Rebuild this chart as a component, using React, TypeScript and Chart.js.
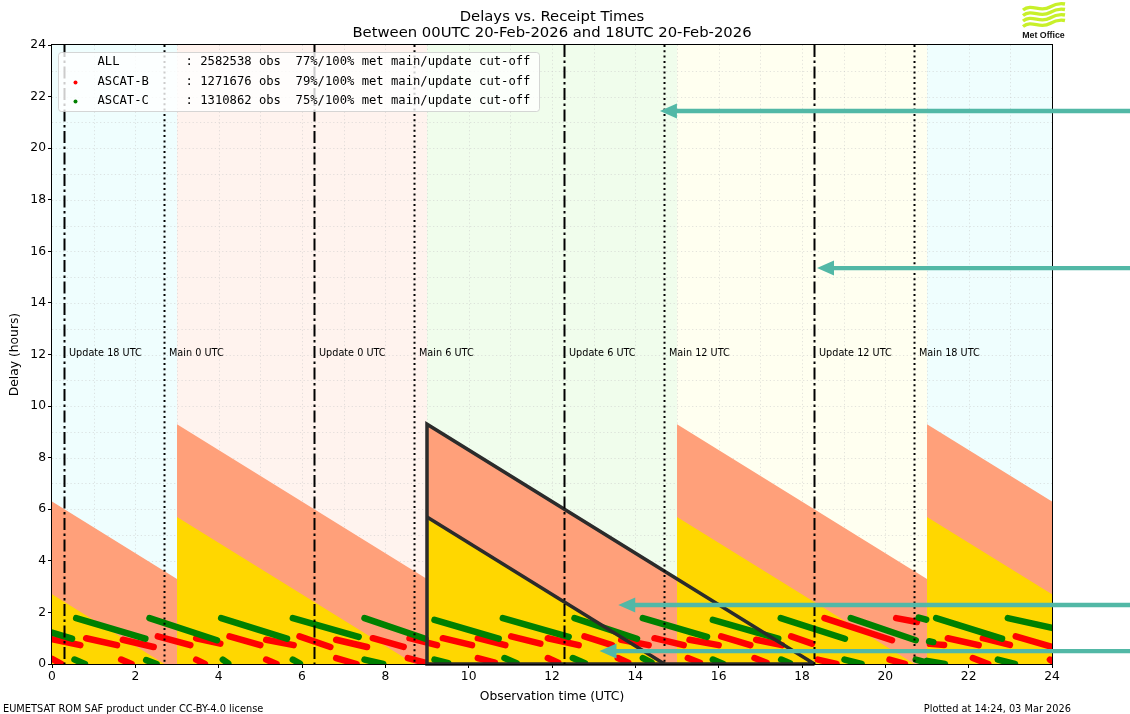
import React, { useEffect, useRef } from "react";
import { Chart, registerables } from "chart.js";

Chart.register(...registerables);

// ---------------- data ----------------
const xTickValues = [0, 2, 4, 6, 8, 10, 12, 14, 16, 18, 20, 22, 24];
const yTickValues = [0, 2, 4, 6, 8, 10, 12, 14, 16, 18, 20, 22, 24];
const gridValues = [1, 2, 3, 4, 5, 6, 7, 8, 9, 10, 11, 12, 13, 14, 15, 16, 17, 18, 19, 20, 21, 22, 23];

// receipt windows (observation hours)
const windowStarts = [0, 3, 9, 15, 21];
const windowEnds = [3, 9, 15, 21, 24];

// cut-off times (observation hours)
const updateCutoffs = [0.3, 6.3, 12.3, 18.3];
const updateLabels = ["Update 18 UTC", "Update 0 UTC", "Update 6 UTC", "Update 12 UTC"];
const mainCutoffs = [2.7, 8.7, 14.7, 20.7];
const mainLabels = ["Main 0 UTC", "Main 6 UTC", "Main 12 UTC", "Main 18 UTC"];
const cutoffLabelDelay = 12;

// delay limits for update (salmon) and main (gold) cut-offs
const updateLimitX = [0, 3, 3, 9, 9, 15, 15, 21, 21, 24];
const updateLimitY = [6.3, 3.3, 9.3, 3.3, 9.3, 3.3, 9.3, 3.3, 9.3, 6.3];
const mainLimitX = [0, 2.7, 3, 3, 8.7, 9, 9, 14.7, 15, 15, 20.7, 21, 21, 24];
const mainLimitY = [2.7, 0, 0, 5.7, 0, 0, 5.7, 0, 0, 5.7, 0, 0, 5.7, 2.7];

// highlighted triangles
const bigTriangleX = [18.3, 9, 9, 18.3];
const bigTriangleY = [0, 0, 9.3, 0];
const smallTriangleX = [9, 14.7];
const smallTriangleY = [5.7, 0];

// arrows: tip position (hour, delay)
const arrowTipX = [14.59, 18.36, 13.59, 13.14];
const arrowTipY = [21.44, 15.35, 2.29, 0.5];

// streaks of observations [t0, d0, t1, d1]
const ascatBStreaks: number[][] = [
  [0, 0.96, 0.68, 0.73], [0.82, 1.0, 1.56, 0.73], [1.7, 0.94, 2.44, 0.66], [2.54, 1.07, 3.32, 0.73],
  [3.46, 1.0, 4.04, 0.79], [4.26, 1.07, 5.0, 0.73], [5.14, 0.94, 5.8, 0.73], [5.94, 1.07, 6.68, 0.66],
  [6.82, 0.94, 7.56, 0.66], [7.7, 1.0, 8.44, 0.66], [8.58, 1.0, 9.24, 0.73], [9.38, 1.0, 10.08, 0.73],
  [10.22, 1.0, 10.88, 0.73], [11.02, 1.07, 11.72, 0.79], [11.9, 1.0, 12.64, 0.73], [12.78, 1.07, 13.44, 0.73],
  [13.66, 0.94, 14.32, 0.73], [14.46, 1.0, 15.16, 0.73], [15.3, 0.94, 16.0, 0.73], [16.06, 1.07, 16.76, 0.73],
  [16.9, 0.94, 17.52, 0.73], [17.74, 1.07, 18.24, 0.79], [18.54, 1.78, 20.16, 0.92], [20.26, 1.78, 20.76, 1.63],
  [21.07, 0.78, 21.41, 0.74], [21.5, 1.0, 22.24, 0.73], [22.34, 1.0, 22.99, 0.74], [23.13, 1.07, 24.0, 0.66],
  [0, 0.2, 0.23, 0.0], [1.66, 0.17, 1.91, 0.0], [3.46, 0.17, 3.67, 0.0], [5.14, 0.17, 5.39, 0.0],
  [6.82, 0.23, 7.31, 0.0], [8.54, 0.23, 8.95, 0.05], [10.22, 0.23, 10.63, 0.05], [11.9, 0.23, 12.15, 0.05],
  [13.58, 0.23, 13.83, 0.05], [15.26, 0.23, 15.55, 0.05], [16.86, 0.23, 17.15, 0.05], [18.38, 0.17, 18.83, 0.0],
  [20.1, 0.17, 20.47, 0.0], [22.1, 0.23, 22.47, 0.0], [23.95, 0.17, 24, 0.12],
];
const ascatCStreaks: number[][] = [
  [0, 1.22, 0.48, 0.98], [0.58, 1.78, 2.24, 0.98], [2.34, 1.78, 3.96, 0.92], [4.06, 1.78, 5.64, 0.98],
  [5.78, 1.78, 7.36, 1.05], [7.5, 1.78, 8.96, 0.98], [9.18, 1.71, 10.72, 0.98], [10.82, 1.78, 12.4, 1.05],
  [12.54, 1.78, 14.04, 0.98], [14.18, 1.78, 15.72, 1.05], [15.86, 1.71, 17.43, 0.98], [17.49, 1.78, 19.03, 0.98],
  [19.17, 1.78, 20.73, 0.92], [20.8, 1.8, 20.98, 1.72], [21.05, 0.88, 21.15, 0.85], [21.22, 1.78, 22.8, 0.98],
  [22.94, 1.78, 24, 1.4],
  [0.54, 0.17, 0.79, 0.0], [2.26, 0.15, 2.51, 0.0], [4.1, 0.17, 4.23, 0.02], [5.78, 0.17, 5.95, 0.02],
  [7.5, 0.17, 7.95, 0.0], [9.18, 0.17, 9.51, 0.03], [10.86, 0.23, 11.15, 0.03], [12.5, 0.23, 12.79, 0.03],
  [14.18, 0.23, 14.39, 0.05], [15.86, 0.17, 16.11, 0.0], [17.5, 0.17, 17.71, 0.03], [19.02, 0.17, 19.43, 0.0],
  [20.73, 0.17, 21.0, 0.05], [21.0, 0.12, 21.43, 0.0], [22.7, 0.17, 23.11, 0.0],
];

// legend
const legendNames = ["ALL", "ASCAT-B", "ASCAT-C"];
const legendObs = [2582538, 1271676, 1310862];
const legendMainPct = [77, 79, 75];
const legendUpdatePct = [100, 100, 100];

const titleLines = ["Delays vs. Receipt Times", "Between 00UTC 20-Feb-2026 and 18UTC 20-Feb-2026"];
const xTitle = "Observation time (UTC)";
const yTitle = "Delay (hours)";
const footerLeft = "EUMETSAT ROM SAF product under CC-BY-4.0 license";
const footerRight = "Plotted at 14:24, 03 Mar 2026";
const logoText = "Met Office";

// ---------------- styles ----------------
const W = 1130;
const H = 714;
const AREA = { left: 52, top: 45, right: 1052, bottom: 664 };
const FONT = "'DejaVu Sans', sans-serif";
const MONO = "'DejaVu Sans Mono', monospace";
const windowColors = ["#effefe", "#fff3ee", "#f0fdec", "#fffff0", "#effefe"];
const SALMON = "#ffa07a";
const GOLD = "#ffd700";
const RED = "#ff0000";
const GREEN = "#008000";
const OUTLINE = "#2b2b2b";
const ARROW = "#52b8a6";
const GRID = "rgba(200,200,200,0.5)";
const LOGO_GREEN = "#c8f02a";

const pts = (xs: number[], ys: number[]) => xs.map((x, i) => ({ x, y: ys[i] }));

const decorPlugin = {
  id: "decor",
  beforeDatasetsDraw(chart: any) {
    const { ctx, chartArea: a, scales } = chart;
    const xs = scales.x;
    const ys = scales.y;
    ctx.save();
    windowStarts.forEach((s, i) => {
      const x0 = xs.getPixelForValue(s);
      const x1 = xs.getPixelForValue(windowEnds[i]);
      ctx.fillStyle = windowColors[i];
      ctx.fillRect(x0, a.top, x1 - x0, a.bottom - a.top);
    });
    ctx.strokeStyle = GRID;
    ctx.lineWidth = 1;
    ctx.setLineDash([1.2, 2.5]);
    gridValues.forEach((v) => {
      const px = Math.round(xs.getPixelForValue(v)) + 0.5;
      ctx.beginPath();
      ctx.moveTo(px, a.top);
      ctx.lineTo(px, a.bottom);
      ctx.stroke();
      const py = Math.round(ys.getPixelForValue(v)) + 0.5;
      ctx.beginPath();
      ctx.moveTo(a.left, py);
      ctx.lineTo(a.right, py);
      ctx.stroke();
    });
    ctx.restore();
  },
  afterDatasetsDraw(chart: any) {
    const { ctx, chartArea: a, scales } = chart;
    const xs = scales.x;
    const ys = scales.y;
    ctx.save();
    ctx.beginPath();
    ctx.rect(a.left, a.top, a.right - a.left, a.bottom - a.top);
    ctx.clip();
    ctx.strokeStyle = "#000";
    ctx.lineWidth = 2;
    const drawV = (v: number, dash: number[]) => {
      const px = xs.getPixelForValue(v);
      ctx.setLineDash(dash);
      ctx.beginPath();
      ctx.moveTo(px, a.top);
      ctx.lineTo(px, a.bottom);
      ctx.stroke();
    };
    updateCutoffs.forEach((v) => drawV(v, [12, 3.5, 2.5, 3.5]));
    mainCutoffs.forEach((v) => drawV(v, [2, 3.3]));
    ctx.setLineDash([]);
    ctx.fillStyle = "#000";
    ctx.font = `9.7px ${FONT}`;
    ctx.textBaseline = "middle";
    ctx.textAlign = "left";
    const ly = ys.getPixelForValue(cutoffLabelDelay) - 1;
    updateCutoffs.forEach((v, i) => ctx.fillText(updateLabels[i], xs.getPixelForValue(v) + 4.5, ly));
    mainCutoffs.forEach((v, i) => ctx.fillText(mainLabels[i], xs.getPixelForValue(v) + 4.5, ly));
    ctx.restore();

    // spines
    ctx.save();
    ctx.strokeStyle = "#000";
    ctx.lineWidth = 1;
    ctx.strokeRect(a.left - 0.5, a.top - 0.5, a.right - a.left + 1, a.bottom - a.top + 1);
    ctx.restore();

    // arrows
    ctx.save();
    ctx.fillStyle = ARROW;
    arrowTipX.forEach((t, i) => {
      const tx = xs.getPixelForValue(t);
      const ty = ys.getPixelForValue(arrowTipY[i]);
      const headL = 17;
      const headW = 7.5;
      const shaft = 2.2;
      ctx.beginPath();
      ctx.moveTo(tx, ty);
      ctx.lineTo(tx + headL, ty - headW);
      ctx.lineTo(tx + headL, ty - shaft);
      ctx.lineTo(W, ty - shaft);
      ctx.lineTo(W, ty + shaft);
      ctx.lineTo(tx + headL, ty + shaft);
      ctx.lineTo(tx + headL, ty + headW);
      ctx.closePath();
      ctx.fill();
    });
    ctx.restore();
  },
  afterDraw(chart: any) {
    const { ctx, chartArea: a } = chart;
    ctx.save();
    // legend
    const bx = 58.5, by = 52.5, bw = 481, bh = 59, r = 3;
    ctx.beginPath();
    ctx.moveTo(bx + r, by);
    ctx.arcTo(bx + bw, by, bx + bw, by + bh, r);
    ctx.arcTo(bx + bw, by + bh, bx, by + bh, r);
    ctx.arcTo(bx, by + bh, bx, by, r);
    ctx.arcTo(bx, by, bx + bw, by, r);
    ctx.closePath();
    ctx.fillStyle = "rgba(255,255,255,0.8)";
    ctx.fill();
    ctx.strokeStyle = "rgba(204,204,204,0.8)";
    ctx.lineWidth = 1;
    ctx.stroke();
    ctx.font = `12.2px ${MONO}`;
    ctx.textBaseline = "middle";
    ctx.textAlign = "left";
    const rowY = [62.3, 82, 101];
    const markColors = [null, RED, GREEN];
    legendNames.forEach((n, i) => {
      const txt = `${n.padEnd(12)}: ${legendObs[i]} obs  ${legendMainPct[i]}%/${legendUpdatePct[i]}% met main/update cut-off`;
      ctx.fillStyle = "#000";
      ctx.fillText(txt, 97.5, rowY[i]);
      const mc = markColors[i];
      if (mc) {
        ctx.fillStyle = mc;
        ctx.beginPath();
        ctx.arc(75.5, rowY[i] + 0.5, 2, 0, Math.PI * 2);
        ctx.fill();
      }
    });

    // title
    ctx.fillStyle = "#000";
    ctx.textAlign = "center";
    ctx.font = `14.8px ${FONT}`;
    const cx = (a.left + a.right) / 2;
    ctx.fillText(titleLines[0], cx, 17);
    ctx.fillText(titleLines[1], cx, 33);

    // footers
    ctx.font = `9.8px ${FONT}`;
    ctx.textAlign = "left";
    ctx.fillText(footerLeft, 3, 709);
    ctx.textAlign = "right";
    ctx.fillText(footerRight, 1071, 709);

    // logo
    ctx.strokeStyle = LOGO_GREEN;
    ctx.lineWidth = 3.4;
    ctx.lineCap = "butt";
    for (let k = 0; k < 4; k++) {
      const y0 = 8 + k * 5.5;
      ctx.beginPath();
      ctx.moveTo(1023, y0 + 2);
      ctx.bezierCurveTo(1032, y0 - 5, 1040, y0 + 5, 1050, y0 - 1);
      ctx.bezierCurveTo(1055, y0 - 4, 1060, y0 - 5, 1065, y0 - 4);
      ctx.stroke();
    }
    ctx.fillStyle = "#111";
    ctx.font = `bold 8.8px 'Liberation Sans', sans-serif`;
    ctx.textAlign = "center";
    ctx.fillText(logoText, 1043.5, 35.5);
    ctx.restore();
  },
};

function streakDatasets(streaks: number[][], color: string, order: number) {
  return streaks.map((s) => ({
    data: [
      { x: s[0], y: s[1] },
      { x: s[2], y: s[3] },
    ],
    showLine: true,
    borderColor: color,
    backgroundColor: color,
    borderWidth: 6.5,
    borderCapStyle: "round",
    pointRadius: 0,
    fill: false,
    clip: 0,
    order,
  }));
}

export default function App() {
  const ref = useRef<HTMLCanvasElement | null>(null);
  useEffect(() => {
    document.body.style.margin = "0";
    const canvas = ref.current;
    if (!canvas) return;
    const datasets: any[] = [
      {
        data: pts(updateLimitX, updateLimitY),
        showLine: true,
        fill: "origin",
        backgroundColor: SALMON,
        borderColor: SALMON,
        borderWidth: 0,
        pointRadius: 0,
        clip: 0,
        order: 10,
      },
      {
        data: pts(mainLimitX, mainLimitY),
        showLine: true,
        fill: "origin",
        backgroundColor: GOLD,
        borderColor: GOLD,
        borderWidth: 0,
        pointRadius: 0,
        clip: 0,
        order: 9,
      },
      ...streakDatasets(ascatBStreaks, RED, 8),
      ...streakDatasets(ascatCStreaks, GREEN, 7),
      {
        data: pts(bigTriangleX, bigTriangleY),
        showLine: true,
        fill: false,
        borderColor: OUTLINE,
        borderWidth: 3.5,
        borderJoinStyle: "miter",
        pointRadius: 0,
        clip: 3,
        order: 2,
      },
      {
        data: pts(smallTriangleX, smallTriangleY),
        showLine: true,
        fill: false,
        borderColor: OUTLINE,
        borderWidth: 3.5,
        pointRadius: 0,
        clip: 0,
        order: 1,
      },
    ];
    const chart = new Chart(canvas, {
      type: "scatter",
      data: { datasets },
      options: {
        animation: false,
        responsive: false,
        devicePixelRatio: 1,
        events: [],
        layout: { padding: { left: 0, top: AREA.top, right: W - AREA.right, bottom: 0 } },
        plugins: { legend: { display: false }, tooltip: { enabled: false }, title: { display: false } },
        scales: {
          x: {
            type: "linear",
            min: 0,
            max: 24,
            afterFit: (s: any) => {
              s.height = H - AREA.bottom;
            },
            afterBuildTicks: (s: any) => {
              s.ticks = xTickValues.map((v) => ({ value: v }));
            },
            ticks: { color: "#000", font: { family: FONT, size: 12.3 }, padding: 1, maxRotation: 0, autoSkip: false },
            grid: { drawOnChartArea: false, drawTicks: true, tickLength: 4, tickColor: "#000" },
            border: { display: true, color: "#000" },
            title: {
              display: true,
              text: xTitle,
              color: "#000",
              font: { family: FONT, size: 12.3 },
              padding: { top: 0, bottom: 9.5 },
            },
          },
          y: {
            type: "linear",
            min: 0,
            max: 24,
            afterFit: (s: any) => {
              s.width = AREA.left;
            },
            afterBuildTicks: (s: any) => {
              s.ticks = yTickValues.map((v) => ({ value: v }));
            },
            ticks: { color: "#000", font: { family: FONT, size: 12.3 }, padding: 2, autoSkip: false },
            grid: { drawOnChartArea: false, drawTicks: true, tickLength: 4, tickColor: "#000" },
            border: { display: true, color: "#000" },
            title: {
              display: true,
              text: yTitle,
              color: "#000",
              font: { family: FONT, size: 12.3 },
              padding: { top: 7.5, bottom: 0 },
            },
          },
        },
      } as any,
      plugins: [decorPlugin],
    });
    return () => chart.destroy();
  }, []);
  return (
    <div style={{ position: "fixed", left: 0, top: 0, width: W, height: H, background: "#fff" }}>
      <canvas ref={ref} width={W} height={H} style={{ width: W, height: H, display: "block" }} />
    </div>
  );
}
